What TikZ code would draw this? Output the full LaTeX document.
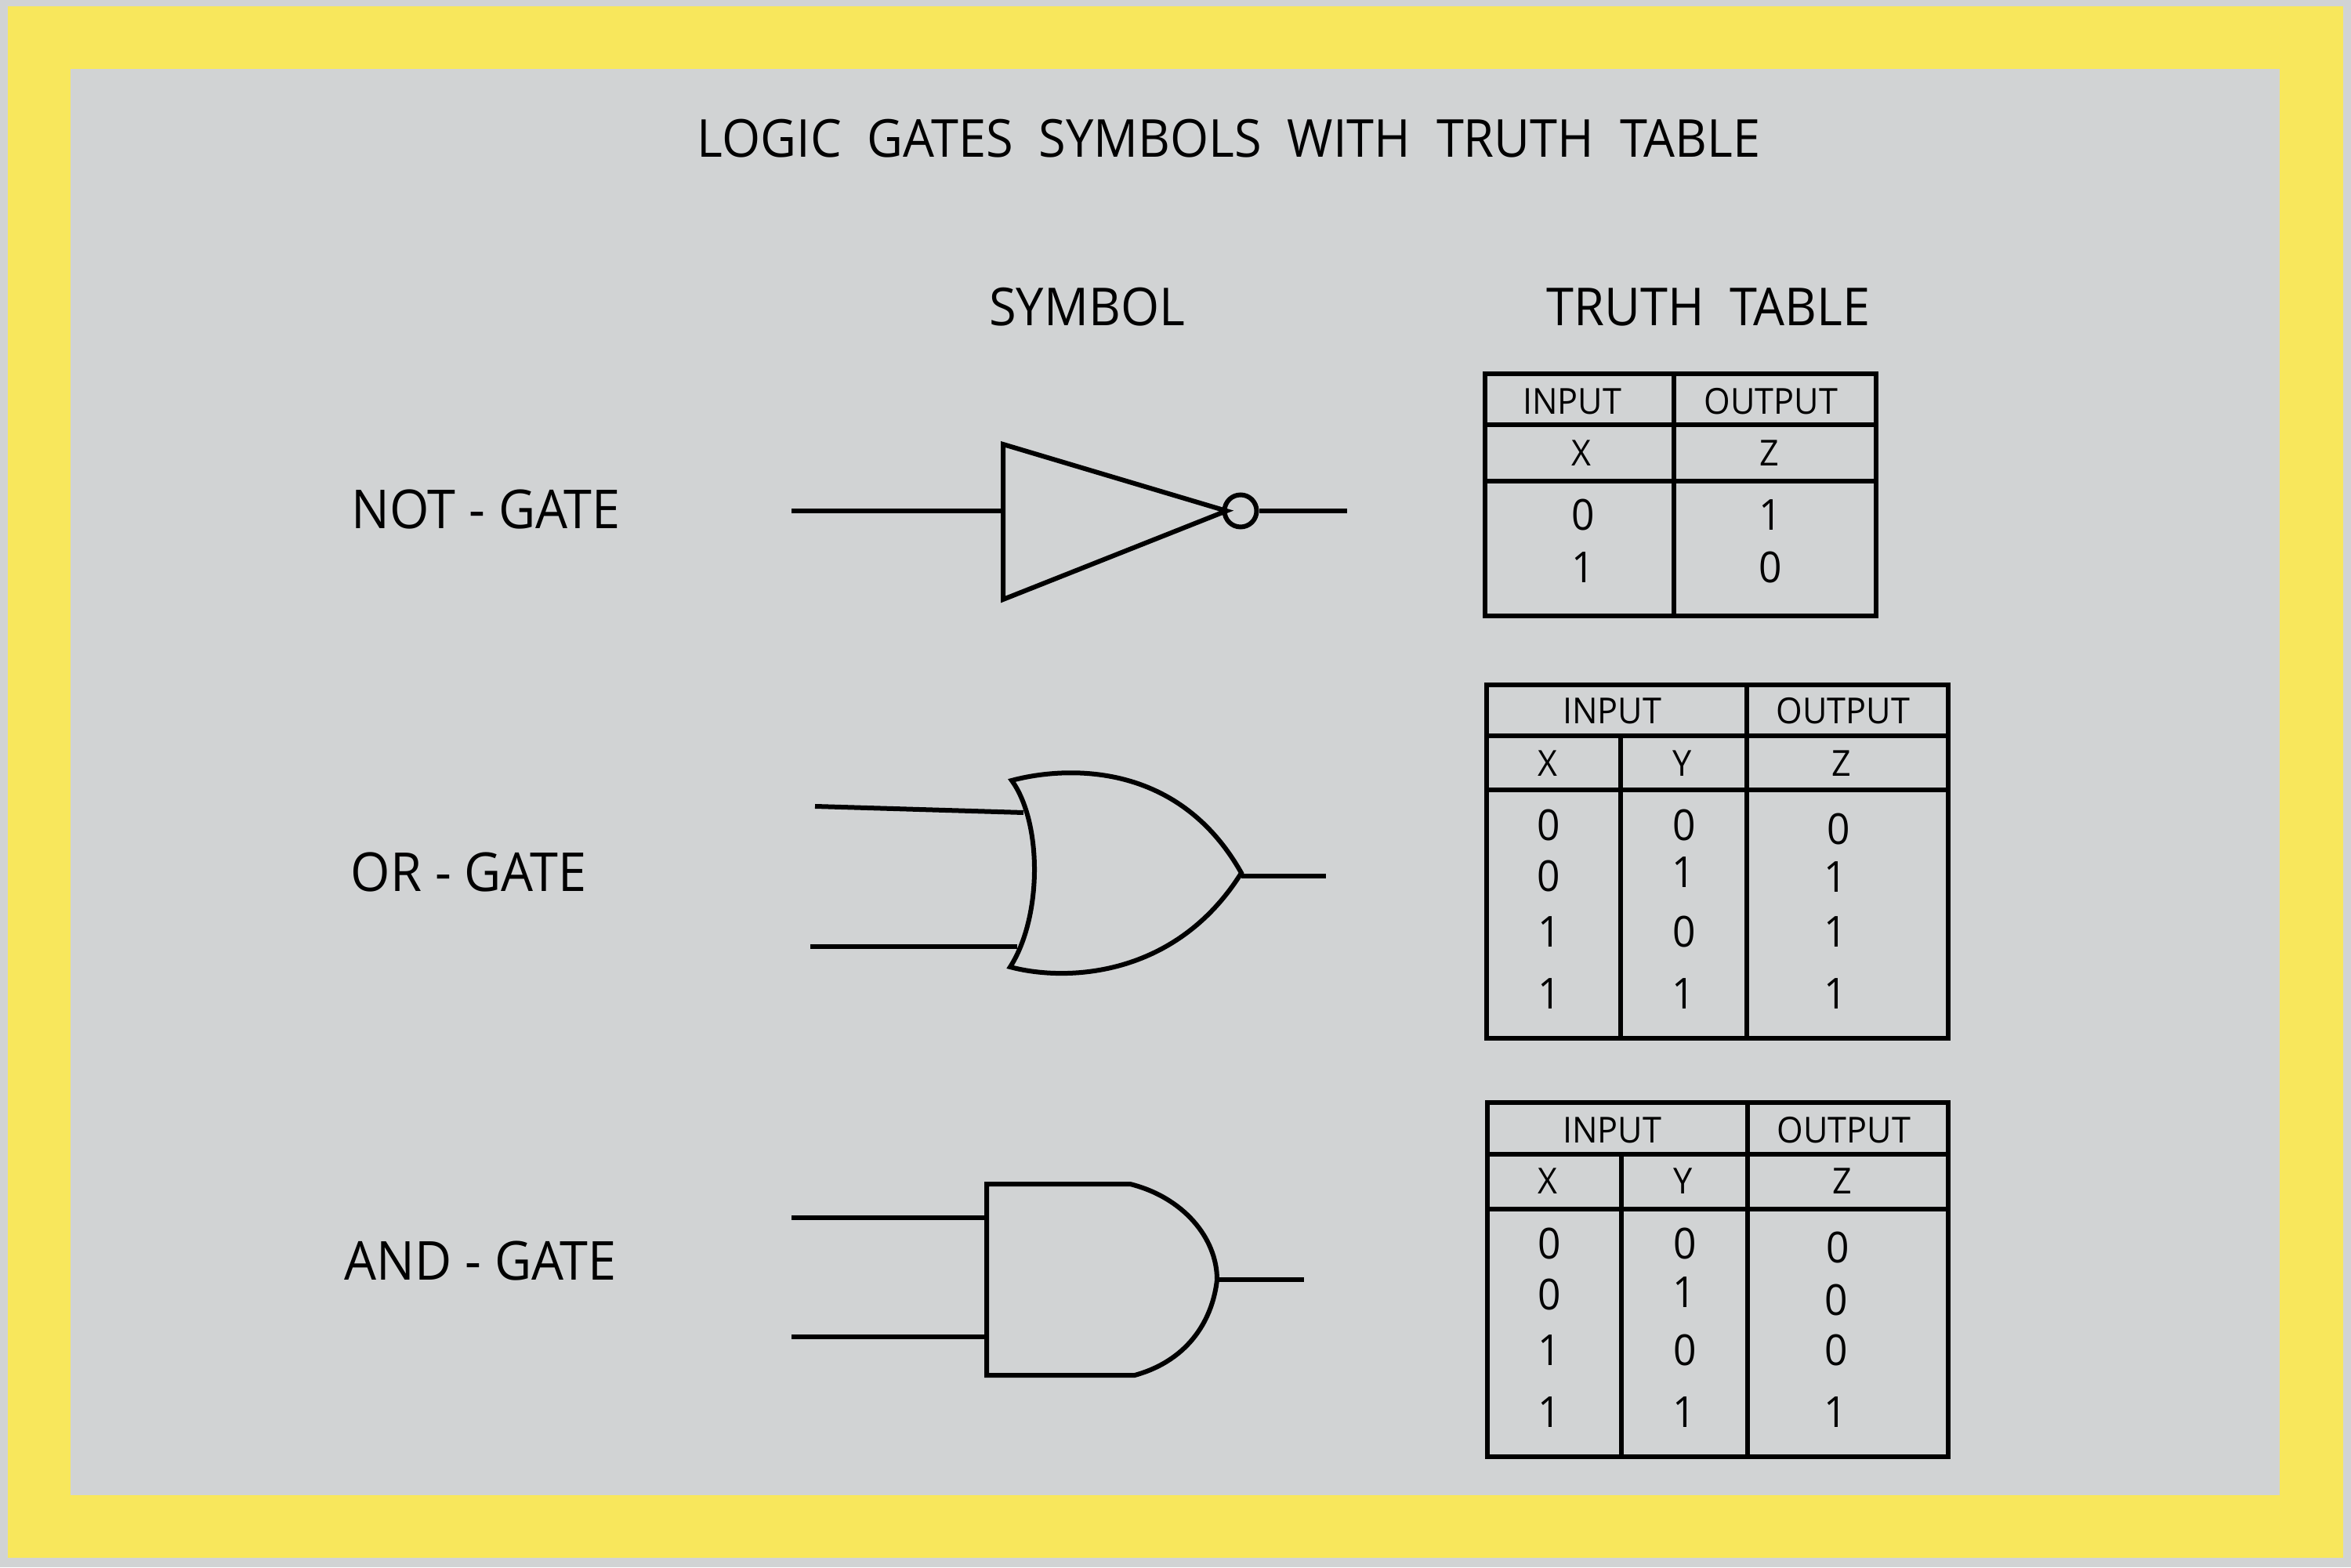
\documentclass[tikz,border=0pt]{standalone}
\usepackage{fontspec}
\setmainfont[FakeStretch=0.945]{Open Sans}
\definecolor{framecolor}{HTML}{F8E75C}
\definecolor{panelcolor}{HTML}{D1D3D4}
\tikzset{
  wire/.style={line width=0.06cm},
  titletext/.style={inner sep=0pt, font=\fontsize{19}{19}\selectfont},
  labeltext/.style={inner sep=0pt, font=\fontsize{19.5}{20}\selectfont},
  headtext/.style={inner sep=0pt, font=\fontsize{13}{13}\selectfont},
  digittext/.style={inner sep=0pt, font=\fontsize{15.5}{16}\selectfont},
}

\begin{document}
\begin{tikzpicture}
\useasboundingbox (0, 0) rectangle (30, 20);
\fill[panelcolor] (0, 0) rectangle (30, 20);
\fill[framecolor] (0.1, 0.12) rectangle (29.9, 19.92);
\fill[panelcolor] (0.9, 0.92) rectangle (29.09, 19.12);

\node[titletext] (maintitle) at (15.68, 18.23) {LOGIC~ GATES~ SYMBOLS~ WITH~ TRUTH~ TABLE};
\node[titletext] (symboltitle) at (13.87, 16.08) {SYMBOL};
\node[titletext] (tabletitle) at (21.8, 16.08) {TRUTH~ TABLE};

\node[labeltext] (notlabel) at (6.2, 13.5) {NOT - GATE};
\node[labeltext] (orlabel) at (5.98, 8.87) {OR - GATE};
\node[labeltext] (andlabel) at (6.13, 3.91) {AND - GATE};

% not gate
\coordinate (notin) at (10.1, 13.48);
\coordinate (notback) at (12.8, 13.48);
\coordinate (notout) at (17.19, 13.48);
\node[draw, wire, circle, inner sep=0pt, minimum size=0.41cm] (notbubble) at (15.83, 13.48) {};
\draw[wire] (12.8, 14.33) -- (15.65, 13.48) -- (12.8, 12.35) -- cycle;
\draw[wire] (notin) -- (notback);
\draw[wire] (notbubble) -- (notout);

% or gate
\coordinate (orinA) at (10.4, 9.71);
\coordinate (orbackA) at (13.06, 9.63);
\coordinate (orinB) at (10.34, 7.92);
\coordinate (orbackB) at (12.98, 7.92);
\coordinate (orapex) at (15.84, 8.86);
\coordinate (orout) at (16.92, 8.82);
\draw[wire] (12.91, 10.04) .. controls (13.5, 10.2) and (15.0, 10.35) .. (orapex)
  .. controls (15.0, 7.52) and (13.6, 7.47) .. (12.89, 7.66)
  .. controls (13.3, 8.3) and (13.3, 9.5) .. (12.91, 10.04) -- cycle;
\draw[wire] (orinA) -- (orbackA);
\draw[wire] (orinB) -- (orbackB);
\draw[wire] (15.84, 8.82) -- (orout);

% and gate
\coordinate (andinA) at (10.1, 4.46);
\coordinate (andbackA) at (12.59, 4.46);
\coordinate (andinB) at (10.1, 2.94);
\coordinate (andbackB) at (12.59, 2.94);
\coordinate (andapex) at (15.53, 3.67);
\coordinate (andout) at (16.64, 3.67);
\draw[wire] (12.59, 4.89) -- (14.42, 4.89) .. controls (15.1, 4.72) and (15.53, 4.2) .. (andapex)
  .. controls (15.48, 3.2) and (15.2, 2.65) .. (14.48, 2.45) -- (12.59, 2.45) -- cycle;
\draw[wire] (andinA) -- (andbackA);
\draw[wire] (andinB) -- (andbackB);
\draw[wire] (andapex) -- (andout);

% not table
\draw[wire] (18.95, 12.14) rectangle (23.94, 15.23);
\draw[wire] (21.36, 12.14) -- (21.36, 15.23);
\draw[wire] (18.95, 14.58) -- (23.94, 14.58);
\draw[wire] (18.95, 13.86) -- (23.94, 13.86);
\node[headtext] (nothA) at (20.06, 14.88) {INPUT};
\node[headtext] (nothB) at (22.6, 14.88) {OUTPUT};
\node[headtext] (nothX) at (20.18, 14.22) {X};
\node[headtext] (nothZ) at (22.58, 14.22) {Z};
\node[digittext] (notdA) at (20.2, 13.43) {0};
\node[digittext] (notdB) at (20.2, 12.76) {1};
\node[digittext] (notdC) at (22.59, 13.43) {1};
\node[digittext] (notdD) at (22.59, 12.76) {0};

% or table
\draw[wire] (18.97, 6.75) rectangle (24.86, 11.26);
\draw[wire] (20.68, 6.75) -- (20.68, 10.61);
\draw[wire] (22.29, 6.75) -- (22.29, 11.26);
\draw[wire] (18.97, 10.61) -- (24.86, 10.61);
\draw[wire] (18.97, 9.92) -- (24.86, 9.92);
\node[headtext] (orhA) at (20.57, 10.93) {INPUT};
\node[headtext] (orhB) at (23.52, 10.93) {OUTPUT};
\node[headtext] (orhX) at (19.75, 10.26) {X};
\node[headtext] (orhY) at (21.47, 10.26) {Y};
\node[headtext] (orhZ) at (23.5, 10.26) {Z};
\node[digittext] (ordA) at (19.76, 9.47) {0};
\node[digittext] (ordB) at (19.76, 8.82) {0};
\node[digittext] (ordC) at (19.77, 8.11) {1};
\node[digittext] (ordD) at (19.77, 7.32) {1};
\node[digittext] (ordE) at (21.49, 9.47) {0};
\node[digittext] (ordF) at (21.48, 8.87) {1};
\node[digittext] (ordG) at (21.49, 8.11) {0};
\node[digittext] (ordH) at (21.48, 7.32) {1};
\node[digittext] (ordI) at (23.46, 9.42) {0};
\node[digittext] (ordJ) at (23.42, 8.81) {1};
\node[digittext] (ordK) at (23.42, 8.11) {1};
\node[digittext] (ordL) at (23.42, 7.32) {1};

% and table
\draw[wire] (18.98, 1.41) rectangle (24.86, 5.93);
\draw[wire] (20.69, 1.41) -- (20.69, 5.27);
\draw[wire] (22.3, 1.41) -- (22.3, 5.93);
\draw[wire] (18.98, 5.27) -- (24.86, 5.27);
\draw[wire] (18.98, 4.57) -- (24.86, 4.57);
\node[headtext] (andhA) at (20.57, 5.58) {INPUT};
\node[headtext] (andhB) at (23.53, 5.58) {OUTPUT};
\node[headtext] (andhX) at (19.75, 4.93) {X};
\node[headtext] (andhY) at (21.48, 4.93) {Y};
\node[headtext] (andhZ) at (23.51, 4.93) {Z};
\node[digittext] (anddA) at (19.77, 4.13) {0};
\node[digittext] (anddB) at (19.77, 3.48) {0};
\node[digittext] (anddC) at (19.77, 2.77) {1};
\node[digittext] (anddD) at (19.77, 1.98) {1};
\node[digittext] (anddE) at (21.5, 4.13) {0};
\node[digittext] (anddF) at (21.49, 3.51) {1};
\node[digittext] (anddG) at (21.5, 2.77) {0};
\node[digittext] (anddH) at (21.49, 1.98) {1};
\node[digittext] (anddI) at (23.45, 4.08) {0};
\node[digittext] (anddJ) at (23.43, 3.41) {0};
\node[digittext] (anddK) at (23.43, 2.77) {0};
\node[digittext] (anddL) at (23.42, 1.98) {1};
\end{tikzpicture}
\end{document}
